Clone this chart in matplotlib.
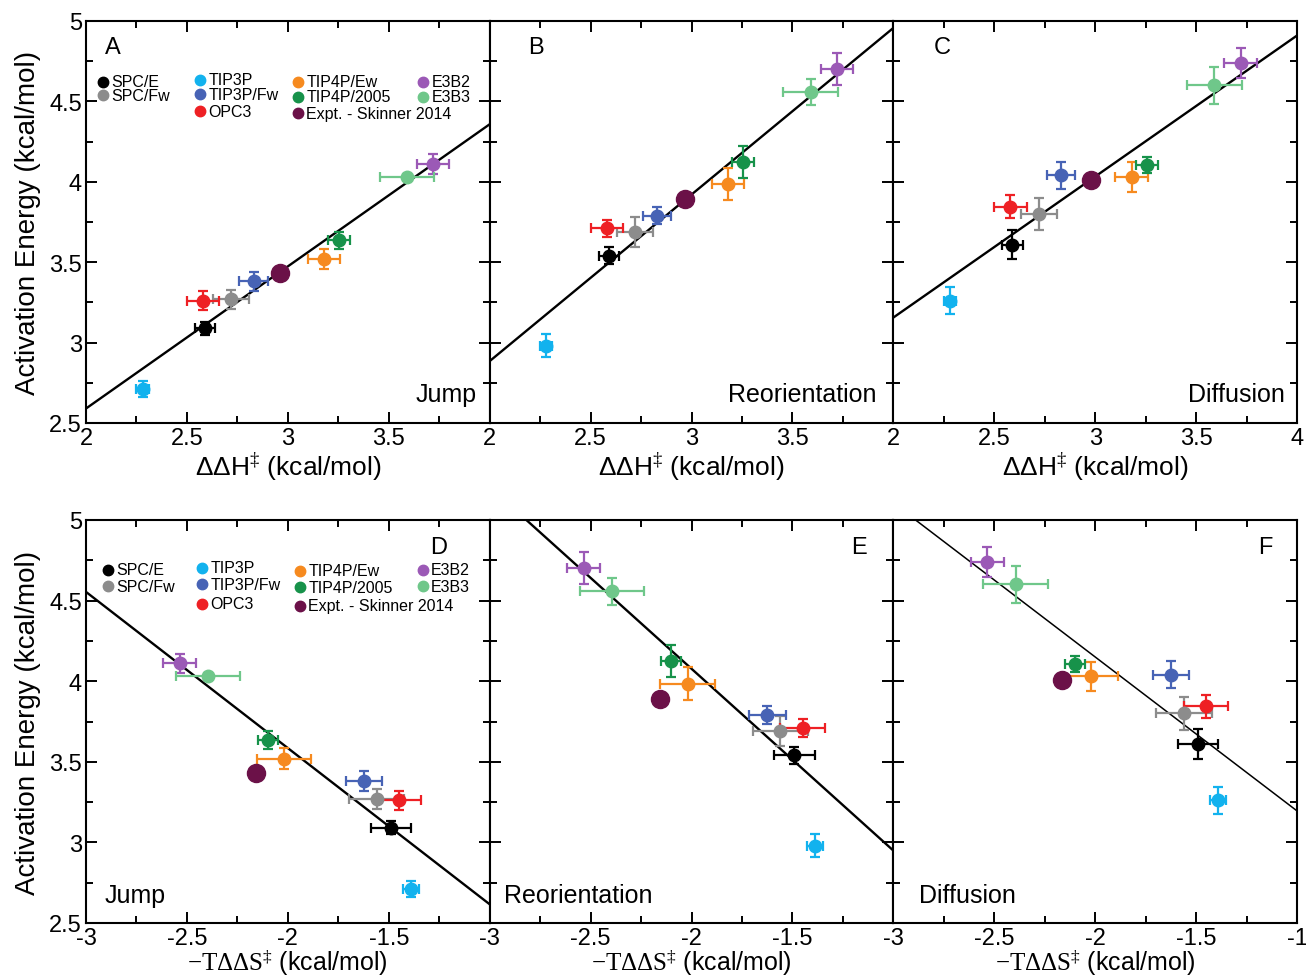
import numpy as np
import matplotlib.pyplot as plt

plt.rcParams['font.family'] = ['Liberation Sans', 'DejaVu Sans']
plt.rcParams['mathtext.fontset'] = 'custom'
plt.rcParams['mathtext.rm'] = 'Liberation Serif'

# modely vody (v pořadí)
models = ["SPC/E", "SPC/Fw", "TIP3P", "TIP3P/Fw", "OPC3",
          "TIP4P/Ew", "TIP4P/2005", "E3B2", "E3B3"]
colors = ["#000000", "#8c8c8c", "#12b2ee", "#4763b5", "#ee2024",
          "#f68a1f", "#17924a", "#9b59b6", "#6fc78a"]
expt_label = "Expt. - Skinner 2014"
expt_color = "#6b1148"

# ΔΔH‡ a -TΔΔS‡ (kcal/mol) s chybami
dH = [2.59, 2.72, 2.28, 2.83, 2.58, 3.18, 3.255, 3.72, 3.59]
dH_err = [0.05, 0.09, 0.03, 0.07, 0.08, 0.08, 0.055, 0.08, 0.135]
TdS = [-1.49, -1.56, -1.39, -1.624, -1.45, -2.02, -2.10, -2.535, -2.395]
TdS_err = [0.10, 0.137, 0.04, 0.09, 0.11, 0.135, 0.05, 0.082, 0.16]
expt_dH = [2.96, 2.97, 2.98]
expt_TdS = [-2.16, -2.157, -2.163]

# aktivační energie pro jednotlivé procesy
Ea_jump = [3.09, 3.27, 2.71, 3.38, 3.26, 3.52, 3.635, 4.11, 4.03]
Ea_jump_err = [0.04, 0.06, 0.05, 0.06, 0.06, 0.063, 0.055, 0.06, 0.02]
Ea_reor = [3.54, 3.69, 2.98, 3.79, 3.71, 3.985, 4.123, 4.70, 4.557]
Ea_reor_err = [0.054, 0.094, 0.072, 0.055, 0.054, 0.10, 0.10, 0.10, 0.082]
Ea_diff = [3.61, 3.80, 3.26, 4.04, 3.845, 4.03, 4.105, 4.74, 4.60]
Ea_diff_err = [0.092, 0.102, 0.084, 0.083, 0.071, 0.092, 0.051, 0.092, 0.114]
expt_Ea = [3.43, 3.89, 4.01]

# přímky (směrnice, posun) pro panely A-F
fit_slope = [0.884, 1.036, 0.877, -0.969, -1.128, -0.955]
fit_icpt = [0.822, 0.813, 1.402, 1.647, 1.821, 2.240]

processes = ["Jump", "Reorientation", "Diffusion"]
letters = ["A", "B", "C", "D", "E", "F"]
Ea_all = [Ea_jump, Ea_reor, Ea_diff]
Ea_err_all = [Ea_jump_err, Ea_reor_err, Ea_diff_err]

fig = plt.figure(figsize=(13.06, 9.78), dpi=100)

W, H = 1306, 978
x0, pw = 86, 403.7
rows = [(22, 424), (521, 924)]


def draw_key(ax, cols, rows_y):
    layout = [(0, 0), (0, 1), (1, 0), (1, 1), (1, 2),
              (2, 0), (2, 1), (3, 0), (3, 1)]
    entries = [(m, c, layout[i]) for i, (m, c) in enumerate(zip(models, colors))]
    entries.append((expt_label, expt_color, (2, 2)))
    for label, c, (ci, ri) in entries:
        xx = cols[ci]
        yy = rows_y[ci][ri]
        ax.plot([xx], [yy], "o", color=c, ms=7.5, transform=ax.transAxes,
                clip_on=False, zorder=5)
        ax.text(xx + 0.021, yy, label, transform=ax.transAxes, fontsize=11.5,
                va="center", ha="left")


for r in range(2):
    top, bot = rows[r]
    for c in range(3):
        k = r * 3 + c
        ax = fig.add_axes([(x0 + c * pw) / W, 1 - bot / H, pw / W, (bot - top) / H])
        if r == 0:
            xs, xe = dH, dH_err
            xlo, xhi = 2, 4
            ticks = [2, 2.5, 3, 3.5, 4]
            tl = ["2", "2.5", "3", "3.5", "4" if c == 2 else ""]
            ex = expt_dH[c]
            ax.set_xlabel(r"ΔΔH$^{\ddagger}$ (kcal/mol)", fontsize=19, labelpad=0)
        else:
            xs, xe = TdS, TdS_err
            xlo, xhi = -3, -1
            ticks = [-3, -2.5, -2, -1.5, -1]
            tl = ["-3", "-2.5", "-2", "-1.5", "-1" if c == 2 else ""]
            ex = expt_TdS[c]
            ax.set_xlabel(r"$\mathrm{-T\Delta\Delta S^{\ddagger}}$ (kcal/mol)",
                          fontsize=18, labelpad=-1.5)

        # regresní přímka
        xl = np.array([xlo, xhi])
        lw = 1.1 if k == 5 else 1.7
        ax.plot(xl, fit_slope[k] * xl + fit_icpt[k], "k-", lw=lw, zorder=2)

        for i in range(len(models)):
            ax.errorbar(xs[i], Ea_all[c][i], xerr=xe[i], yerr=Ea_err_all[c][i],
                        fmt="o", color=colors[i], ms=9, elinewidth=1.6,
                        capsize=3.5, capthick=1.6, zorder=3)
        ax.plot([ex], [expt_Ea[c]], "o", color=expt_color, ms=13, zorder=4)

        ax.set_xlim(xlo, xhi)
        ax.set_ylim(2.5, 5)
        ax.set_xticks(ticks)
        ax.set_xticklabels(tl)
        ax.set_xticks(np.arange(xlo, xhi + 0.01, 0.25), minor=True)
        ax.set_yticks([2.5, 3, 3.5, 4, 4.5, 5])
        ax.set_yticks(np.arange(2.5, 5.01, 0.25), minor=True)
        if c == 0:
            ax.set_yticklabels(["2.5", "3", "3.5", "4", "4.5", "5"])
        else:
            ax.set_yticklabels([])
        ax.tick_params(which="both", direction="in", top=True, right=True,
                       width=1.4, labelsize=17, pad=3)
        ax.tick_params(which="major", length=8)
        ax.tick_params(which="minor", length=5)
        for s in ax.spines.values():
            s.set_linewidth(1.5)

        # písmena panelů a názvy procesů
        if r == 0:
            lx = [0.047, 0.094, 0.099][c]
            ax.text(lx, 0.935, letters[k], transform=ax.transAxes, fontsize=17,
                    ha="left", va="center")
            ax.text([0.968, 0.959, 0.969][c], 0.072, processes[c],
                    transform=ax.transAxes, fontsize=18, ha="right", va="center")
        else:
            lx = [0.895, 0.935, 0.94][c]
            ax.text(lx, 0.933, letters[k], transform=ax.transAxes, fontsize=17,
                    ha="right", va="center")
            ax.text([0.045, 0.035, 0.064][c], 0.07, processes[c],
                    transform=ax.transAxes, fontsize=18, ha="left", va="center")

        if k == 0:
            draw_key(ax, [0.042, 0.282, 0.525, 0.835],
                     [[0.849, 0.815], [0.854, 0.818, 0.775],
                      [0.849, 0.812, 0.770], [0.849, 0.812]])
        if k == 3:
            draw_key(ax, [0.055, 0.287, 0.530, 0.834],
                     [[0.876, 0.835], [0.881, 0.841, 0.792],
                      [0.874, 0.833, 0.787], [0.876, 0.835]])

for yc in [(22 + 424) / 2, (521 + 924) / 2]:
    fig.text(28 / W, 1 - yc / H, "Activation Energy (kcal/mol)", rotation=90,
             fontsize=20, ha="center", va="center")

plt.savefig("out.png", dpi=100)
